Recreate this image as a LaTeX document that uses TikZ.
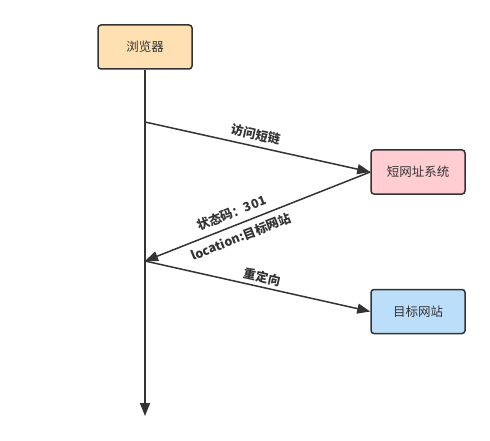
\documentclass[tikz,border=0pt]{standalone}
\usepackage{fontspec}
\setmainfont{Noto Sans CJK SC}
\usetikzlibrary{arrows.meta}
\definecolor{ln}{HTML}{333333}
\definecolor{orangefill}{HTML}{FFE0B2}
\definecolor{pinkfill}{HTML}{FFCDD2}
\definecolor{bluefill}{HTML}{BBDEFB}
\tikzset{
  box/.style={draw=ln, line width=1.5pt, rounded corners=3pt, minimum width=94pt, minimum height=44pt, inner sep=0pt, text=ln, font=\fontsize{12.5}{15}\selectfont},
  conn/.style={draw=ln, line width=1.5pt, -{Triangle[length=13pt,width=10pt]}},
  lbl/.style={text=ln, font=\fontsize{12.5}{15}\selectfont\bfseries, sloped, inner sep=1pt}
}
\begin{document}
\begin{tikzpicture}[x=1pt,y=-1pt]
\useasboundingbox (0,0) rectangle (490,441);
\node[box, fill=orangefill] (browser) at (145,47) {浏览器};
\node[box, fill=pinkfill] (short) at (418,172) {短网址系统};
\node[box, fill=bluefill] (target) at (418,311.5) {目标网站};
\coordinate (p1) at (145,122);
\coordinate (p2) at (145,261);
\coordinate (pend) at (145,416);
\draw[conn] (browser.south) -- (pend);
\draw[conn] (p1) -- node[lbl, above=4pt, pos=0.48] {访问短链} (short.west);
\draw[conn] (short.west) -- node[lbl, above=5pt, pos=0.595] {状态码：301}
                            node[lbl, below=5pt, pos=0.595] {location:目标网站} (p2);
\draw[conn] (p2) -- node[lbl, above=2pt, pos=0.51] {重定向} (target.west);
\end{tikzpicture}
\end{document}
